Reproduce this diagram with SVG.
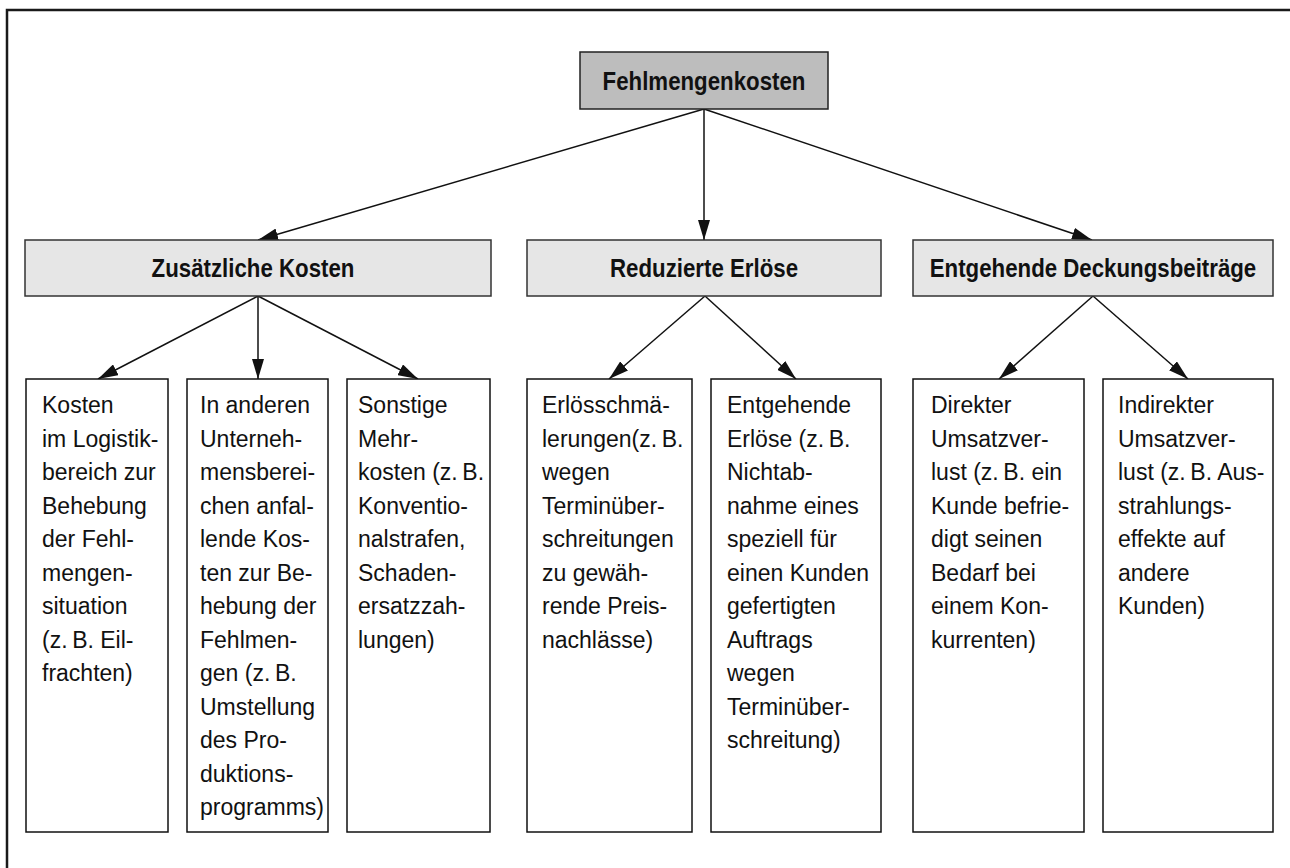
<svg xmlns="http://www.w3.org/2000/svg" width="1290" height="868" viewBox="0 0 1290 868">
  <style>
    .frame { fill: none; stroke: #1a1a1a; stroke-width: 2.5; }
    .root { fill: #bdbdbd; stroke: #222; stroke-width: 1.5; }
    .cat { fill: #e6e6e6; stroke: #333; stroke-width: 1.5; }
    .leaf { fill: #fff; stroke: #111; stroke-width: 1.5; }
    .head { font-family: "Liberation Sans", Arial, sans-serif; font-weight: bold; font-size: 26.5px; fill: #111; text-anchor: middle; }
    .body { font-family: "Liberation Sans", Arial, sans-serif; font-size: 23px; fill: #111; }
    .edge { stroke: #111; stroke-width: 1.5; fill: none; marker-end: url(#arrow); }
  </style>
  <defs>
    <marker id="arrow" viewBox="0 0 20 12" refX="20" refY="6" markerWidth="20" markerHeight="12" markerUnits="userSpaceOnUse" orient="auto">
      <path d="M0,0 L20,6 L0,12 Z" fill="#111"/>
    </marker>
  </defs>

  <rect class="frame" x="7" y="10" width="1300" height="880"/>

  <g id="connectors">
    <line class="edge" x1="704" y1="109" x2="258" y2="240"/>
    <line class="edge" x1="704" y1="109" x2="704" y2="240"/>
    <line class="edge" x1="704" y1="109" x2="1092" y2="240"/>
    <line class="edge" x1="258" y1="296" x2="98" y2="379"/>
    <line class="edge" x1="258" y1="296" x2="258" y2="379"/>
    <line class="edge" x1="258" y1="296" x2="418" y2="379"/>
    <line class="edge" x1="705" y1="296" x2="609" y2="379"/>
    <line class="edge" x1="705" y1="296" x2="796" y2="379"/>
    <line class="edge" x1="1093" y1="296" x2="999" y2="379"/>
    <line class="edge" x1="1093" y1="296" x2="1188" y2="379"/>
  </g>

  <!-- headings use a condensed bold face, made by narrowing the glyphs horizontally -->
  <g id="fehlmengenkosten">
    <rect class="root" x="580" y="52" width="248" height="57"/>
    <text class="head" transform="translate(704 90) scale(0.84 1)">Fehlmengenkosten</text>
  </g>

  <g id="zusaetzliche-kosten">
    <rect class="cat" x="25" y="240" width="466" height="56"/>
    <text class="head" transform="translate(253 277) scale(0.84 1)">Zusätzliche Kosten</text>
  </g>
  <g id="reduzierte-erloese">
    <rect class="cat" x="527" y="240" width="354" height="56"/>
    <text class="head" transform="translate(704 277) scale(0.84 1)">Reduzierte Erlöse</text>
  </g>
  <g id="entgehende-db">
    <rect class="cat" x="913" y="240" width="360" height="56"/>
    <text class="head" transform="translate(1093 277) scale(0.84 1)">Entgehende Deckungsbeiträge</text>
  </g>

  <g id="logistik">
    <rect class="leaf" x="26" y="379" width="142" height="453"/>
    <text class="body" x="42" y="413">
      <tspan x="42" dy="0">Kosten</tspan>
      <tspan x="42" dy="33.5">im Logistik-</tspan>
      <tspan x="42" dy="33.5">bereich zur</tspan>
      <tspan x="42" dy="33.5">Behebung</tspan>
      <tspan x="42" dy="33.5">der Fehl-</tspan>
      <tspan x="42" dy="33.5">mengen-</tspan>
      <tspan x="42" dy="33.5">situation</tspan>
      <tspan x="42" dy="33.5">(z.&#8201;B. Eil-</tspan>
      <tspan x="42" dy="33.5">frachten)</tspan>
    </text>
  </g>

  <g id="andere-bereiche">
    <rect class="leaf" x="187" y="379" width="141" height="453"/>
    <text class="body" x="200" y="413">
      <tspan x="200" dy="0">In anderen</tspan>
      <tspan x="200" dy="33.5">Unterneh-</tspan>
      <tspan x="200" dy="33.5">mensberei-</tspan>
      <tspan x="200" dy="33.5">chen anfal-</tspan>
      <tspan x="200" dy="33.5">lende Kos-</tspan>
      <tspan x="200" dy="33.5">ten zur Be-</tspan>
      <tspan x="200" dy="33.5">hebung der</tspan>
      <tspan x="200" dy="33.5">Fehlmen-</tspan>
      <tspan x="200" dy="33.5">gen (z.&#8201;B.</tspan>
      <tspan x="200" dy="33.5">Umstellung</tspan>
      <tspan x="200" dy="33.5">des Pro-</tspan>
      <tspan x="200" dy="33.5">duktions-</tspan>
      <tspan x="200" dy="33.5">programms)</tspan>
    </text>
  </g>

  <g id="sonstige">
    <rect class="leaf" x="347" y="379" width="143" height="453"/>
    <text class="body" x="358" y="413">
      <tspan x="358" dy="0">Sonstige</tspan>
      <tspan x="358" dy="33.5">Mehr-</tspan>
      <tspan x="358" dy="33.5">kosten (z.&#8201;B.</tspan>
      <tspan x="358" dy="33.5">Konventio-</tspan>
      <tspan x="358" dy="33.5">nalstrafen,</tspan>
      <tspan x="358" dy="33.5">Schaden-</tspan>
      <tspan x="358" dy="33.5">ersatzzah-</tspan>
      <tspan x="358" dy="33.5">lungen)</tspan>
    </text>
  </g>

  <g id="erloesschmaelerungen">
    <rect class="leaf" x="527" y="379" width="165" height="453"/>
    <text class="body" x="542" y="413">
      <tspan x="542" dy="0">Erlösschmä-</tspan>
      <tspan x="542" dy="33.5">lerungen(z.&#8201;B.</tspan>
      <tspan x="542" dy="33.5">wegen</tspan>
      <tspan x="542" dy="33.5">Terminüber-</tspan>
      <tspan x="542" dy="33.5">schreitungen</tspan>
      <tspan x="542" dy="33.5">zu gewäh-</tspan>
      <tspan x="542" dy="33.5">rende Preis-</tspan>
      <tspan x="542" dy="33.5">nachlässe)</tspan>
    </text>
  </g>

  <g id="entgehende-erloese">
    <rect class="leaf" x="711" y="379" width="170" height="453"/>
    <text class="body" x="727" y="413">
      <tspan x="727" dy="0">Entgehende</tspan>
      <tspan x="727" dy="33.5">Erlöse (z.&#8201;B.</tspan>
      <tspan x="727" dy="33.5">Nichtab-</tspan>
      <tspan x="727" dy="33.5">nahme eines</tspan>
      <tspan x="727" dy="33.5">speziell für</tspan>
      <tspan x="727" dy="33.5">einen Kunden</tspan>
      <tspan x="727" dy="33.5">gefertigten</tspan>
      <tspan x="727" dy="33.5">Auftrags</tspan>
      <tspan x="727" dy="33.5">wegen</tspan>
      <tspan x="727" dy="33.5">Terminüber-</tspan>
      <tspan x="727" dy="33.5">schreitung)</tspan>
    </text>
  </g>

  <g id="direkter-umsatzverlust">
    <rect class="leaf" x="913" y="379" width="171" height="453"/>
    <text class="body" x="931" y="413">
      <tspan x="931" dy="0">Direkter</tspan>
      <tspan x="931" dy="33.5">Umsatzver-</tspan>
      <tspan x="931" dy="33.5">lust (z.&#8201;B. ein</tspan>
      <tspan x="931" dy="33.5">Kunde befrie-</tspan>
      <tspan x="931" dy="33.5">digt seinen</tspan>
      <tspan x="931" dy="33.5">Bedarf bei</tspan>
      <tspan x="931" dy="33.5">einem Kon-</tspan>
      <tspan x="931" dy="33.5">kurrenten)</tspan>
    </text>
  </g>

  <g id="indirekter-umsatzverlust">
    <rect class="leaf" x="1103" y="379" width="170" height="453"/>
    <text class="body" x="1118" y="413">
      <tspan x="1118" dy="0">Indirekter</tspan>
      <tspan x="1118" dy="33.5">Umsatzver-</tspan>
      <tspan x="1118" dy="33.5">lust (z.&#8201;B. Aus-</tspan>
      <tspan x="1118" dy="33.5">strahlungs-</tspan>
      <tspan x="1118" dy="33.5">effekte auf</tspan>
      <tspan x="1118" dy="33.5">andere</tspan>
      <tspan x="1118" dy="33.5">Kunden)</tspan>
    </text>
  </g>
</svg>
